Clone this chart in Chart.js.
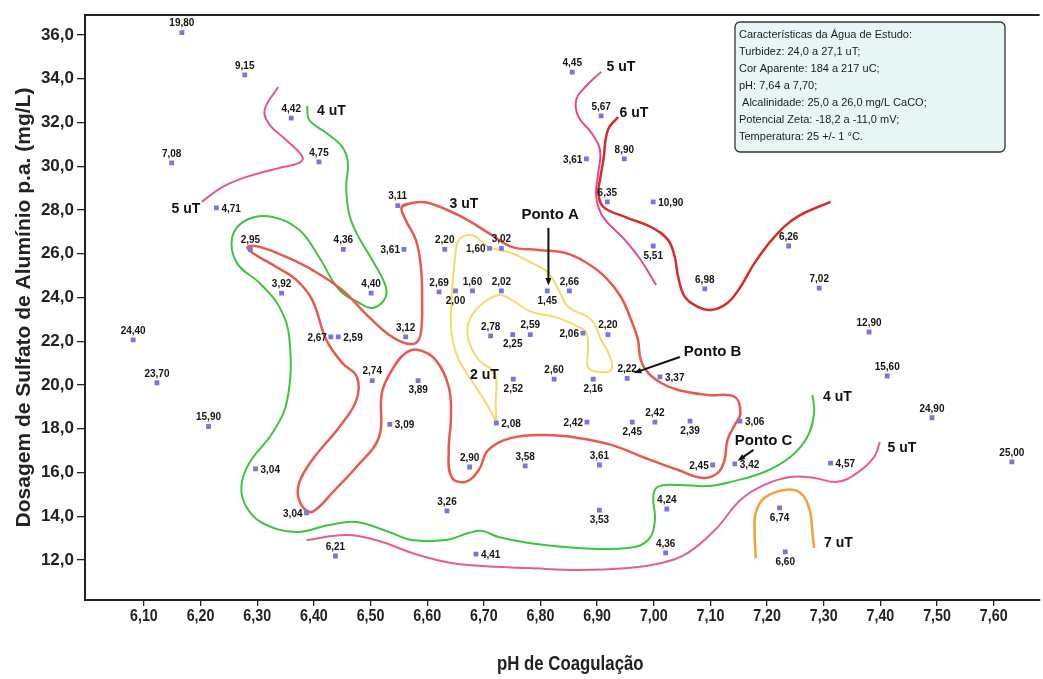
<!DOCTYPE html>
<html lang="pt-BR">
<head>
<meta charset="utf-8">
<title>Diagrama de coagulação – turbidez remanescente</title>
<script src="https://cdn.jsdelivr.net/npm/chart.js@4.4.1/dist/chart.umd.min.js"></script>
<style>
  html, body { margin: 0; padding: 0; background: #fff; }
  #wrap { width: 1043px; height: 679px; }
</style>
</head>
<body>
<div id="wrap"><canvas id="c" width="1043" height="679"></canvas></div>
<script>
// Ensaios: pH de coagulação, dosagem de sulfato (mg/L) e turbidez remanescente (uT)
const phValues = [
  6.167, 6.278, 6.360, 6.149, 6.409, 6.228, 6.288, 6.452, 6.559, 6.548,
  6.343, 6.501, 6.430, 6.443, 6.081, 6.123, 6.214, 6.562, 6.503, 6.534,
  6.297, 6.387, 6.438, 6.631, 6.710, 6.731, 6.621, 6.650, 6.680, 6.731,
  6.812, 6.851, 6.712, 6.751, 6.782, 6.875, 6.919, 6.584, 6.752, 6.824,
  6.893, 6.953, 7.011, 6.722, 6.882, 6.962, 7.002, 7.064, 7.152, 6.675,
  6.773, 6.904, 7.104, 7.143, 7.312, 7.632, 7.491, 6.635, 6.904, 7.023,
  6.686, 7.021, 7.222, 7.232, 7.238, 7.090, 7.292, 7.380, 7.412, 6.999,
  6.999, 6.918, 6.881, 6.948, 6.907, 6.856
];
const doseValues = [
  36.10, 34.17, 32.20, 30.15, 30.20, 28.09, 26.20, 26.20, 26.20, 28.20,
  24.20, 24.20, 22.20, 22.20, 22.06, 20.10, 18.10, 22.20, 20.20, 18.20,
  16.16, 14.15, 12.18, 26.20, 26.24, 26.24, 24.25, 24.30, 24.30, 24.30,
  24.30, 24.30, 22.24, 22.30, 22.30, 22.37, 22.30, 20.20, 20.27, 20.27,
  20.27, 20.30, 20.37, 18.26, 18.30, 18.30, 18.30, 18.35, 18.35, 16.25,
  16.30, 16.34, 16.34, 16.39, 16.43, 16.48, 18.50, 14.24, 14.28, 14.33,
  12.27, 12.32, 14.38, 12.37, 26.35, 24.39, 24.43, 22.42, 20.41, 26.35,
  28.37, 28.37, 30.33, 30.33, 32.30, 34.30
];
const turbidity = [
  19.80, 9.15, 4.42, 7.08, 4.75, 4.71, 2.95, 4.36, 3.61, 3.11,
  3.92, 4.40, 2.67, 2.59, 24.40, 23.70, 15.90, 3.12, 2.74, 3.09,
  3.04, 3.04, 6.21, 2.20, 1.60, 3.02, 2.69, 2.00, 1.60, 2.02,
  1.45, 2.66, 2.78, 2.25, 2.59, 2.06, 2.20, 3.89, 2.52, 2.60,
  2.16, 2.22, 3.37, 2.08, 2.42, 2.45, 2.42, 2.39, 3.06, 2.90,
  3.58, 3.61, 2.45, 3.42, 4.57, 25.00, 24.90, 3.26, 3.53, 4.24,
  4.41, 4.36, 6.74, 6.60, 6.26, 6.98, 7.02, 12.90, 15.60, 5.51,
  10.90, 6.35, 3.61, 8.90, 5.67, 4.45
];
// lado do rótulo de cada ponto: t = acima, b = abaixo, l = esquerda, r = direita
const labelSide = [
  't','t','t','t','t','r','t','t','l','t',
  't','t','l','r','t','t','t','t','t','r',
  'r','l','t','t','l','t','t','b','t','t',
  'b','t','t','b','t','l','t','b','b','t',
  'b','t','r','r','l','b','t','b','r','t',
  't','t','l','r','r','t','t','t','b','t',
  'r','t','b','b','t','t','t','t','t','b',
  'r','t','l','t','t','t'
];

const xTicks = [6.1, 6.2, 6.3, 6.4, 6.5, 6.6, 6.7, 6.8, 6.9, 7.0, 7.1, 7.2, 7.3, 7.4, 7.5, 7.6];
const yTicks = [12, 14, 16, 18, 20, 22, 24, 26, 28, 30, 32, 34, 36];
const xTitle = 'pH de Coagulação';
const yTitle = 'Dosagem de Sulfato de Alumínio p.a. (mg/L)';

// Curvas de isoturbidez [pH, dosagem]
const curve2uT = [
  [6.722,18.31],[6.721,19.31],[6.722,20.23],[6.714,20.69],[6.691,21.14],[6.673,22.06],
  [6.673,22.83],[6.691,23.57],[6.726,24.11],[6.749,23.89],[6.784,23.34],[6.826,23.11],
  [6.867,22.65],[6.881,22.38],[6.884,21.60],[6.884,20.82],[6.902,20.59],[6.925,20.69],
  [6.923,21.28],[6.907,22.06],[6.890,22.97],[6.849,23.57],[6.832,24.34],[6.814,25.12],
  [6.784,25.58],[6.749,26.03],[6.708,26.31],[6.686,26.77],[6.673,26.86],[6.656,26.63],
  [6.650,26.03],[6.643,23.89],[6.643,22.38],[6.656,21.14],[6.686,19.91],[6.708,18.99],
  [6.722,18.31]
];
const curve3uT = [
  [6.555,28.14],[6.573,28.32],[6.603,28.32],[6.661,27.68],[6.708,26.95],[6.749,26.31],
  [6.796,26.17],[6.844,26.03],[6.879,25.62],[6.914,24.94],[6.942,24.02],[6.960,22.97],
  [6.972,22.06],[6.977,21.14],[6.990,20.55],[7.013,20.09],[7.043,19.77],[7.095,19.54],
  [7.143,19.45],[7.153,18.72],[7.143,18.17],[7.130,17.49],[7.125,16.57],[7.113,15.98],
  [7.087,15.75],[7.043,16.11],[6.985,16.66],[6.925,17.26],[6.867,17.58],[6.809,17.71],
  [6.749,17.58],[6.708,17.03],[6.691,16.11],[6.668,15.57],[6.643,15.79],[6.638,17.03],
  [6.642,18.54],[6.638,19.91],[6.615,21.14],[6.585,21.60],[6.562,21.46],[6.538,20.69],
  [6.520,19.63],[6.515,17.62],[6.475,16.25],[6.432,15.06],[6.409,14.42],[6.392,14.19],
  [6.374,14.74],[6.374,15.52],[6.397,16.57],[6.445,18.08],[6.475,19.31],[6.476,20.37],
  [6.450,21.01],[6.422,22.06],[6.397,23.89],[6.369,24.80],[6.334,25.39],[6.292,26.03],
  [6.283,26.31],[6.304,26.31],[6.351,25.85],[6.397,25.26],[6.450,24.34],[6.497,23.11],
  [6.533,22.28],[6.560,21.92],[6.580,21.92],[6.589,22.40],[6.591,23.89],[6.589,25.39],
  [6.580,26.63],[6.562,27.54],[6.555,28.14],[6.573,28.32]
];
const curve4uT = [
  [6.388,32.75],[6.392,32.11],[6.422,31.52],[6.450,30.88],[6.460,30.15],[6.457,29.05],
  [6.462,27.86],[6.475,26.95],[6.503,25.71],[6.527,24.48],[6.524,23.89],[6.503,23.52],
  [6.480,23.75],[6.445,24.34],[6.409,25.85],[6.374,27.09],[6.327,27.68],[6.281,27.54],
  [6.256,26.77],[6.264,25.58],[6.304,24.66],[6.339,23.57],[6.357,22.06],[6.353,19.31],
  [6.327,17.81],[6.286,16.43],[6.272,15.34],[6.281,14.42],[6.309,13.69],[6.369,13.28],
  [6.427,13.60],[6.475,13.74],[6.533,13.28],[6.573,12.91],[6.633,12.91],[6.673,13.23],
  [6.696,13.33],[6.726,13.05],[6.779,12.78],[6.867,12.55],[6.955,12.55],[6.990,12.91],
  [7.002,13.83],[6.999,14.88],[7.007,15.34],[7.043,15.43],[7.095,15.38],[7.136,15.57],
  [7.195,16.02],[7.241,16.71],[7.271,17.62],[7.283,18.72],[7.280,19.54]
];
const curve5uTa = [
  [6.337,33.62],[6.313,32.57],[6.322,31.89],[6.351,31.20],[6.380,30.42],[6.374,30.15],
  [6.339,29.92],[6.281,29.51],[6.239,29.05],[6.202,28.37]
];
const curve5uTb = [
  [6.907,34.31],[6.879,33.62],[6.863,33.03],[6.867,32.25],[6.890,31.52],[6.905,30.74],
  [6.902,29.69],[6.898,28.78],[6.902,28.14],[6.914,27.54],[6.949,26.63],[6.977,25.71],
  [7.004,24.57]
];
const curve5uTc = [
  [6.387,12.91],[6.457,13.14],[6.515,12.87],[6.573,12.32],[6.633,11.91],[6.691,11.73],
  [6.779,11.63],[6.867,11.54],[6.955,11.63],[7.013,11.86],[7.060,12.32],[7.108,13.37],
  [7.153,14.74],[7.195,15.43],[7.241,15.79],[7.283,15.75],[7.324,15.57],[7.359,15.98],
  [7.389,16.71],[7.399,17.39]
];
const curve6uT = [
  [6.937,32.25],[6.919,31.66],[6.911,30.29],[6.905,29.37],[6.902,28.78],[6.911,28.14],
  [6.949,27.68],[6.995,27.22],[7.025,26.63],[7.037,25.85],[7.043,24.94],[7.055,24.02],
  [7.078,23.57],[7.101,23.43],[7.130,23.75],[7.153,24.48],[7.178,25.58],[7.213,26.77],
  [7.253,27.68],[7.312,28.37]
];
const curve7uT = [
  [7.180,12.09],[7.178,13.23],[7.180,14.15],[7.195,14.83],[7.231,15.20],[7.259,15.06],
  [7.275,14.29],[7.280,13.23],[7.283,12.55]
];

// Rótulos das curvas e pontos destacados (coordenadas de dados)
const curveLabels = [
  { text: '5 uT', x: 6.174, y: 28.05 },
  { text: '4 uT', x: 6.431, y: 32.53 },
  { text: '3 uT', x: 6.665, y: 28.27 },
  { text: '5 uT', x: 6.942, y: 34.54 },
  { text: '6 uT', x: 6.965, y: 32.43 },
  { text: '2 uT', x: 6.701, y: 20.46 },
  { text: '4 uT', x: 7.324, y: 19.45 },
  { text: '5 uT', x: 7.438, y: 17.12 },
  { text: '7 uT', x: 7.326, y: 12.78 }
];
const pointCallouts = [
  { text: 'Ponto A', tx: 6.817, ty: 27.77, align: 'center', from: [6.814, 27.18], to: [6.814, 24.55] },
  { text: 'Ponto B', tx: 7.053, ty: 21.51, align: 'left',   from: [7.046, 21.28], to: [6.965, 20.55] },
  { text: 'Ponto C', tx: 7.143, ty: 17.44, align: 'left',   from: [7.176, 17.03], to: [7.148, 16.53] }
];
const infoLines = [
  'Características da Água de Estudo:',
  'Turbidez: 24,0 a 27,1 uT;',
  'Cor Aparente: 184 a 217 uC;',
  'pH: 7,64 a 7,70;',
  ' Alcalinidade: 25,0 a 26,0 mg/L CaCO;',
  'Potencial Zeta: -18,2 a -11,0 mV;',
  'Temperatura: 25 +/- 1 °C.'
];

const toXY = arr => arr.map(([x, y]) => ({ x, y }));
const fmt2 = v => v.toFixed(2).replace('.', ',');

function curveDataset(points, color, width) {
  return {
    data: toXY(points),
    showLine: true,
    borderColor: color,
    borderWidth: width,
    pointRadius: 0,
    pointHoverRadius: 0,
    tension: 0.4,
    fill: false
  };
}

const SANS = '"Liberation Sans", Arial, sans-serif';

// texto horizontalmente comprimido (estilo "narrow")
function narrowText(ctx, text, x, y, font, squeeze) {
  ctx.save();
  ctx.font = font;
  ctx.textAlign = 'center';
  ctx.textBaseline = 'middle';
  ctx.translate(x, y);
  ctx.scale(squeeze, 1);
  ctx.fillText(text, 0, 0);
  ctx.restore();
}

const framePlugin = {
  id: 'frame',
  afterDraw(chart) {
    const { ctx, chartArea: a, scales: { x } } = chart;
    ctx.save();
    ctx.strokeStyle = '#222';
    ctx.lineWidth = 2;
    ctx.beginPath();
    ctx.moveTo(a.left, a.top);
    ctx.lineTo(a.right, a.top);
    ctx.stroke();
    ctx.fillStyle = '#222';
    // rótulos do eixo do pH e título
    xTicks.forEach(v => {
      narrowText(ctx, fmt2(v), x.getPixelForValue(v), a.bottom + 16, 'bold 17px ' + SANS, 0.84);
    });
    narrowText(ctx, xTitle, (a.left + a.right) / 2 + 8, 664, 'bold 20px ' + SANS, 0.84);
    ctx.restore();
  }
};

const labelsPlugin = {
  id: 'pointLabels',
  afterDatasetsDraw(chart) {
    const { ctx, scales: { x, y } } = chart;
    ctx.save();
    ctx.fillStyle = '#151515';
    ctx.font = 'bold 10px ' + SANS;
    phValues.forEach((v, i) => {
      const px = x.getPixelForValue(v);
      const py = y.getPixelForValue(doseValues[i]);
      const t = fmt2(turbidity[i]);
      ctx.textBaseline = 'middle';
      switch (labelSide[i]) {
        case 't': ctx.textAlign = 'center'; ctx.fillText(t, px, py - 9); break;
        case 'b': ctx.textAlign = 'center'; ctx.fillText(t, px, py + 10); break;
        case 'l': ctx.textAlign = 'right'; ctx.fillText(t, px - 4, py + 1); break;
        default:  ctx.textAlign = 'left'; ctx.fillText(t, px + 5, py + 1);
      }
    });

    // rótulos das curvas
    ctx.font = 'bold 14px ' + SANS;
    ctx.fillStyle = '#111';
    ctx.textAlign = 'center';
    curveLabels.forEach(l => {
      ctx.fillText(l.text, x.getPixelForValue(l.x), y.getPixelForValue(l.y));
    });

    // pontos destacados com setas
    ctx.font = 'bold 15px ' + SANS;
    ctx.strokeStyle = '#111';
    ctx.lineWidth = 2;
    pointCallouts.forEach(c => {
      ctx.textAlign = c.align;
      ctx.fillStyle = '#111';
      ctx.fillText(c.text, x.getPixelForValue(c.tx), y.getPixelForValue(c.ty));
      const x0 = x.getPixelForValue(c.from[0]), y0 = y.getPixelForValue(c.from[1]);
      const x1 = x.getPixelForValue(c.to[0]), y1 = y.getPixelForValue(c.to[1]);
      const ang = Math.atan2(y1 - y0, x1 - x0);
      const head = 8;
      ctx.beginPath();
      ctx.moveTo(x0, y0);
      ctx.lineTo(x1 - Math.cos(ang) * head * 0.6, y1 - Math.sin(ang) * head * 0.6);
      ctx.stroke();
      ctx.beginPath();
      ctx.moveTo(x1, y1);
      ctx.lineTo(x1 - head * Math.cos(ang - 0.38), y1 - head * Math.sin(ang - 0.38));
      ctx.lineTo(x1 - head * Math.cos(ang + 0.38), y1 - head * Math.sin(ang + 0.38));
      ctx.closePath();
      ctx.fill();
    });

    // quadro com as características da água
    const bx = 735, by = 22, bw = 270, bh = 130, r = 5;
    ctx.beginPath();
    ctx.moveTo(bx + r, by);
    ctx.arcTo(bx + bw, by, bx + bw, by + bh, r);
    ctx.arcTo(bx + bw, by + bh, bx, by + bh, r);
    ctx.arcTo(bx, by + bh, bx, by, r);
    ctx.arcTo(bx, by, bx + bw, by, r);
    ctx.closePath();
    ctx.fillStyle = '#e7f6f5';
    ctx.fill();
    ctx.lineWidth = 1.3;
    ctx.strokeStyle = '#333';
    ctx.stroke();
    ctx.fillStyle = '#1c1c1c';
    ctx.font = '11px ' + SANS;
    ctx.textAlign = 'left';
    ctx.textBaseline = 'middle';
    infoLines.forEach((line, k) => ctx.fillText(line, bx + 4, by + 13 + k * 17));
    ctx.restore();
  }
};

new Chart(document.getElementById('c'), {
  type: 'scatter',
  data: {
    datasets: [
      {
        data: phValues.map((v, i) => ({ x: v, y: doseValues[i] })),
        pointStyle: 'rect',
        pointRadius: 3.4,
        pointHoverRadius: 3.4,
        backgroundColor: '#7676dc',
        borderWidth: 0,
        showLine: false
      },
      curveDataset(curve2uT, '#f1db6b', 2),
      curveDataset(curve3uT, '#e8594e', 2.5),
      curveDataset(curve4uT, '#3fc43f', 2),
      curveDataset(curve5uTa, '#e9578a', 2),
      curveDataset(curve5uTb, '#e6478f', 2),
      curveDataset(curve5uTc, '#e45f8a', 2),
      curveDataset(curve6uT, '#d42e2a', 2.5),
      curveDataset(curve7uT, '#f0a23d', 2.5)
    ]
  },
  options: {
    responsive: false,
    animation: false,
    events: [],
    layout: { padding: { top: 15, right: 0, bottom: 0, left: 0 } },
    plugins: { legend: { display: false }, tooltip: { enabled: false } },
    scales: {
      x: {
        type: 'linear',
        min: 5.996,
        max: 7.681,
        afterBuildTicks: s => { s.ticks = xTicks.map(v => ({ value: v })); },
        afterFit: s => { s.height = 79; },
        ticks: { display: false, autoSkip: false },
        grid: { drawOnChartArea: false, tickLength: 6, color: '#222', lineWidth: 1.3 },
        border: { display: true, color: '#222', width: 2 },
        title: { display: false }
      },
      y: {
        type: 'linear',
        min: 10.17,
        max: 36.91,
        afterBuildTicks: s => { s.ticks = yTicks.map(v => ({ value: v })); },
        afterFit: s => { s.width = 85; },
        ticks: {
          callback: v => v.toFixed(1).replace('.', ','),
          autoSkip: false,
          padding: 3,
          color: '#222',
          font: { family: SANS, size: 17, weight: 'bold' }
        },
        grid: { drawOnChartArea: false, tickLength: 8, color: '#222', lineWidth: 1.3 },
        border: { display: true, color: '#222', width: 2 },
        title: {
          display: true,
          text: yTitle,
          color: '#222',
          font: { family: SANS, size: 21, weight: 'bold' },
          padding: { top: 12, bottom: 0 }
        }
      }
    }
  },
  plugins: [framePlugin, labelsPlugin]
});
</script>
</body>
</html>
